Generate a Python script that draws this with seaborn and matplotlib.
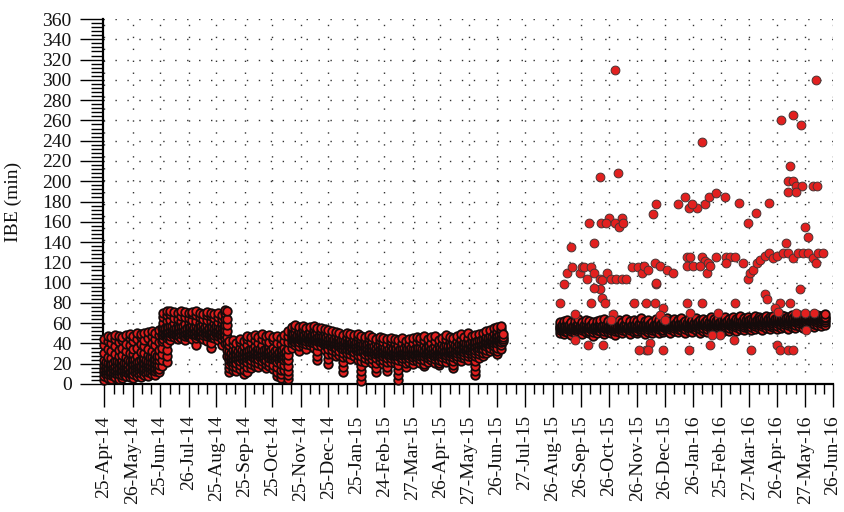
import matplotlib
matplotlib.use("Agg")
import matplotlib.pyplot as plt
import matplotlib.dates as mdates
from matplotlib.ticker import MultipleLocator, FixedLocator
import pandas as pd
import seaborn as sns

START = pd.Timestamp("2014-04-25")

# x tick labels and their day offsets from START
tick_labels = ["25-Apr-14", "26-May-14", "25-Jun-14", "26-Jul-14", "25-Aug-14",
               "25-Sep-14", "25-Oct-14", "25-Nov-14", "25-Dec-14", "25-Jan-15",
               "24-Feb-15", "27-Mar-15", "26-Apr-15", "27-May-15", "26-Jun-15",
               "27-Jul-15", "26-Aug-15", "26-Sep-15", "26-Oct-15", "26-Nov-15",
               "26-Dec-15", "26-Jan-16", "25-Feb-16", "27-Mar-16", "26-Apr-16",
               "27-May-16", "26-Jun-16"]
tick_days = [0, 31, 61, 92, 122, 153, 183, 214, 244, 275, 305, 336, 366, 397,
             427, 458, 488, 519, 549, 580, 610, 641, 671, 702, 732, 763, 793]

# IBE readings (min), one line per day offset: "day: values"
spring_2014 = """
0: 4 8 12 15 19 24 31 38 44
2: 10 13 16 19 22
4: 6 10 13 16 21 27 35 42 47
6: 11 14 17 20
8: 5 9 12 17 20 26 33 40 46
10: 9 12 15 18 21
12: 7 11 14 18 23 30 37 44 48
14: 10 13 16 20 23
16: 5 10 13 16 22 28 34 41 47
18: 12 14 17 19 22
20: 6 9 14 19 24 29 36 43 46
22: 10 13 15 18 21
24: 8 12 15 18 21 27 33 39 48
26: 11 14 16 20 24
28: 7 11 13 17 23 31 38 45 49
30: 9 12 15 19 22
32: 6 10 14 20 25 30 35 42 47
34: 12 15 18 21 25
36: 8 12 16 19 22 28 36 44 50
38: 10 14 17 20 23
40: 7 11 15 18 24 32 39 46 49
42: 13 16 19 22 26
44: 9 13 16 21 26 31 37 43 50
46: 11 15 18 21 24
48: 8 12 17 20 23 29 35 45 51
50: 12 16 19 23 27
52: 10 14 18 22 27 33 40 47 52
54: 13 15 18 22 25
56: 9 13 16 21 25 30 38 44 50
58: 14 17 20 24 28
60: 12 15 19 24 28 34 41 48 53
63: 18 24 30 36 42 48 55
"""

summer_2014 = """
64: 44 48 51 55 60 66 70
66: 48 50 53 55
68: 22 28 34 40 45 49 52 56 62 68 72
70: 47 50 52 56
72: 43 47 50 53 57 63 69 72
74: 49 51 54 57
76: 46 49 52 55 60 65 71
78: 48 50 53 55
80: 44 48 51 54 58 64 70
82: 47 51 53 56
84: 45 49 53 57 62 67 72
86: 49 52 54 57
88: 43 47 50 54 59 66 71
90: 48 50 52 55
92: 46 48 52 56 61 65 70
94: 47 50 53 56
96: 44 49 51 55 58 63 69 71
98: 49 51 54 56
100: 38 45 48 52 57 62 68 72
102: 48 50 52 55
104: 46 50 53 56 60 66 70
106: 47 51 53 57
108: 44 48 51 55 59 64 69
110: 49 52 54 56
112: 42 47 50 54 58 63 68 71
114: 48 50 53 55
116: 36 40 46 49 53 57 62 67 70
118: 47 50 52 56
120: 45 48 52 55 60 65 69
122: 49 51 54 57
124: 43 47 50 53 57 61 66 70
126: 48 50 53 55
128: 38 44 48 52 56 60 64 68
130: 47 51 53 56
132: 40 45 49 53 58 64 70 73
134: 28 34 40 46 52 58 64 72
"""

autumn_2014 = """
136: 12 16 20 24 28 33 38 42
138: 22 25 28 31
140: 14 18 22 25 29 34 39 43
142: 23 26 29 32
144: 13 17 21 26 30 35 40
146: 24 27 30 33
148: 15 19 23 27 31 36 41 44
150: 25 28 31 34
152: 10 14 20 24 28 32 37 42
154: 24 27 30 32
156: 12 17 22 26 29 33 38 44 47
158: 26 29 31 34
160: 16 20 24 28 31 35 41 46
162: 27 30 32 35
164: 18 22 26 30 33 37 43 48
166: 26 29 32 34
168: 17 21 25 29 32 36 40 46
170: 27 30 33 35
172: 19 23 27 30 34 38 44 49
174: 25 28 31 34
176: 16 20 24 29 32 35 42 47
178: 27 30 32 35
180: 18 22 26 30 33 37 41 48
182: 26 29 31 34
184: 15 19 25 28 31 36 43 46
186: 25 28 30 33
188: 8 12 17 22 27 31 35 40 47
190: 24 27 30 32
192: 6 10 14 20 26 30 34 39 45
194: 26 29 31 34
196: 14 19 24 28 32 36 42 48
198: 25 28 31 33
200: 5 9 13 18 24 29 35 41 47 52
"""

winter_2015 = """
204: 36 40 43 45 47 50 53 56
206: 43 45 47 49
208: 38 41 44 46 48 51 55 58
210: 42 44 46 48
212: 33 37 41 44 46 49 52 56
214: 43 45 47 50
216: 37 40 43 45 48 50 54 57
218: 42 44 46 48
220: 35 39 42 45 47 51 55
222: 43 45 47 49
224: 38 41 44 46 49 52 56
226: 41 44 46 48
228: 36 40 43 45 48 50 53 57
230: 42 44 46 49
232: 24 28 33 38 42 45 47 51 55
234: 41 43 45 47
236: 37 41 44 46 48 52 55
238: 40 42 44 47
240: 34 38 42 44 47 50 54
242: 39 41 43 46
244: 20 25 30 35 39 42 45 49 53
246: 38 40 42 45
248: 30 34 37 40 42 45 48 52
250: 37 39 41 44
252: 28 32 36 39 41 44 47 51
254: 37 39 42 44
256: 29 33 37 40 43 46 50
258: 36 38 40 43
260: 12 17 22 27 31 35 38 41 44 48
262: 35 37 40 42
264: 27 31 35 38 40 43 46 50
266: 35 37 39 42
268: 25 30 34 37 40 42 45 49
270: 34 36 39 41
272: 28 32 36 39 41 44 48
274: 34 36 38 41
276: 24 29 33 36 39 42 46 49
278: 33 35 37 40
280: 3 8 13 18 23 28 33 37 40 44 47
282: 32 34 37 39
284: 22 26 30 34 37 40 43 46
286: 32 34 36 39
288: 24 28 32 35 38 41 45 48
290: 31 33 35 38
292: 21 25 29 32 35 38 42 46
294: 30 32 35 37
296: 12 16 21 26 30 33 36 40 44
298: 30 32 34 37
300: 23 27 30 33 36 39 43 46
302: 29 31 34 36
304: 20 24 28 31 34 37 41 45
306: 29 31 33 36
308: 13 17 22 26 30 32 35 39 44
310: 28 30 33 35
312: 22 26 29 32 34 38 42 45
314: 29 31 33 36
316: 21 25 28 31 33 37 40 44
318: 28 30 32 35
320: 4 9 14 19 24 28 31 34 38 43
322: 28 31 33 35
324: 23 26 29 31 33 36 40 45
326: 29 31 33 36
328: 17 21 25 29 31 34 38 42
330: 28 30 32 35
332: 22 26 29 32 35 39 44
334: 29 31 34 36
336: 20 24 27 30 32 35 40 45
338: 28 30 33 35
340: 23 27 30 32 34 37 41 46
342: 29 31 33 36
344: 21 25 28 31 33 36 42 45
346: 28 31 33 35
348: 18 20 24 28 31 34 38 43 47
350: 29 31 34 36
352: 22 26 29 32 35 39 44
354: 30 32 34 37
356: 24 27 30 33 36 40 46
358: 29 31 33 36
360: 21 25 28 31 34 37 42 47
362: 28 30 33 35
364: 19 21 24 28 31 33 38 43
366: 29 32 34 36
368: 23 27 30 33 35 39 45
370: 30 32 34 37
372: 22 26 29 32 34 38 44 48
374: 30 33 35 37
376: 24 28 31 33 36 41 46
378: 31 33 35 38
380: 16 19 23 27 30 32 35 40 45
382: 31 33 36 38
384: 25 28 31 34 37 42 47
386: 32 34 36 39
388: 23 27 30 33 35 39 44 49
390: 32 35 37 39
392: 26 29 32 35 37 41 46
394: 33 35 37 40
396: 24 28 31 34 36 40 45 50
398: 33 36 38 40
400: 27 30 33 36 38 42 47
402: 34 36 38 41
404: 9 13 18 23 28 31 34 37 41 48
406: 35 37 39 42
408: 26 30 33 36 39 43 49
410: 36 38 40 43
412: 28 31 35 38 40 44 50
414: 37 39 41 44
416: 31 34 37 40 42 46 52
418: 38 40 42 45
420: 33 36 39 42 44 47 53
422: 39 41 43 46
424: 34 37 40 43 45 49 55
426: 40 42 44 47
428: 30 33 36 40 43 45 48 52 56
430: 41 43 45 48
432: 35 38 41 44 46 50 54 57
434: 42 44 46 49
"""

band_2015_16 = """
496: 50 53 55 56 58 61
498: 54 56 58
500: 49 52 55 57 59 62
502: 53 55 57
504: 51 54 56 57 60 63
506: 54 56 58
508: 48 52 54 56 58 61
510: 54 55 57
512: 50 53 55 57 59 62
514: 53 56 58
516: 52 54 56 58 60 64
518: 54 56 57
520: 49 53 55 57 58 61
522: 54 55 58
524: 51 54 56 57 59 63
526: 53 56 57
528: 50 52 55 56 58 62
530: 54 56 58
532: 47 51 54 56 59 61
534: 54 55 57
536: 50 53 55 57 58 62
538: 53 56 58
540: 52 55 56 58 60 63
542: 54 56 57
544: 49 52 55 57 59 64
546: 54 55 58
548: 51 54 56 57 58 62
550: 53 56 57
552: 50 53 55 56 59 61
554: 54 56 58
556: 48 52 54 56 58 62
558: 54 55 57
560: 51 54 56 58 60 63
562: 53 56 58
564: 50 53 55 57 59 61
566: 55 56 58
568: 52 55 56 58 60 64
570: 54 56 57
572: 49 53 55 57 59 62
574: 55 57 58
576: 51 54 56 57 60 63
578: 54 56 58
580: 50 52 55 57 58 62
582: 55 57 59
584: 52 54 56 58 60 65
586: 55 56 58
588: 49 53 56 57 59 62
590: 55 57 59
592: 51 54 56 58 60 63
594: 56 57 59
596: 50 53 55 57 59 61
598: 55 57 58
600: 52 55 57 58 60 64
602: 56 58 59
604: 50 54 56 58 61 63
606: 55 57 59
608: 51 53 56 57 59 62
610: 56 58 60
612: 53 55 57 59 61 65
614: 56 57 59
616: 50 54 56 58 60 62
618: 56 58 60
620: 52 55 57 59 61 64
622: 57 58 60
624: 51 54 56 58 60 63
626: 56 58 59
628: 53 56 57 59 61 65
630: 57 59 60
632: 50 54 57 58 60 62
634: 56 58 60
636: 52 55 57 59 61 64
638: 57 59 61
640: 51 55 56 58 60 63
642: 57 58 60
644: 53 56 58 59 62 65
646: 57 59 61
648: 50 54 57 59 61 63
650: 58 59 61
652: 52 55 58 60 62 64
654: 57 59 61
656: 51 54 57 59 60 63
658: 58 60 61
660: 53 56 58 60 62 66
662: 57 59 61
664: 52 55 57 59 61 64
666: 58 60 62
668: 54 56 58 60 62 65
670: 58 59 61
672: 51 55 57 59 61 63
674: 58 60 62
676: 53 56 58 60 62 66
678: 59 60 62
680: 52 55 58 59 61 64
682: 58 60 62
684: 54 57 59 61 63 66
686: 59 61 62
688: 52 56 58 60 62 64
690: 59 61 63
692: 54 57 59 61 63 67
694: 59 60 62
696: 53 56 58 60 62 65
698: 60 61 63
700: 55 57 59 61 63 66
702: 59 61 63
704: 53 56 59 60 62 64
706: 60 62 63
708: 54 57 59 61 63 67
710: 60 61 63
712: 55 58 60 62 64 66
714: 60 62 64
716: 53 57 59 61 63 65
718: 61 62 64
720: 55 58 60 62 64 67
722: 60 62 64
724: 54 57 60 61 63 66
726: 61 63 64
728: 56 58 60 62 64 67
730: 61 62 64
732: 54 57 60 62 63 65
734: 61 63 65
736: 55 58 61 62 64 68
738: 62 63 65
740: 56 59 61 63 64 67
742: 61 63 65
744: 54 58 60 62 64 66
746: 62 64 65
748: 56 59 61 63 65 68
750: 62 63 65
752: 55 58 61 62 64 67
754: 62 64 66
756: 57 60 62 63 65 68
758: 63 64 66
760: 55 59 61 63 64 66
762: 62 64 66
764: 56 60 62 64 65 68
766: 63 65 66
768: 57 60 62 63 65 67
770: 63 64 66
772: 56 59 62 64 66 69
774: 63 65 67
776: 58 61 63 64 66 68
778: 64 65 67
780: 57 60 62 64 65 67
782: 63 65 67
784: 58 61 63 65 66 69
"""

# Second band, roughly 100-130 min
upper_days = [500, 504, 509, 518, 520, 522, 525, 530, 533, 540, 542, 547, 552, 557,
              563, 568, 574, 581, 585, 587, 592, 599, 605, 612, 619, 634, 637, 650,
              654, 657, 666, 677, 681, 686, 634, 641, 648, 656, 659, 677, 695, 701,
              703, 706, 710, 714, 719, 723, 728, 732, 739, 744, 750, 755, 760, 766,
              771, 775, 777, 782]
upper_ibe = [99, 109, 115, 109, 115, 115, 104, 115, 109, 104, 103, 109, 104, 104,
             104, 104, 115, 115, 109, 116, 112, 119, 116, 112, 109, 125, 125, 125,
             121, 119, 125, 125, 125, 125, 116, 116, 116, 109, 116, 119, 119, 104,
             109, 112, 119, 122, 126, 129, 124, 126, 129, 129, 124, 129, 129, 129,
             124, 119, 129, 129]

# Isolated high readings
high_days = [556, 774, 736, 750, 758, 650, 746, 539, 559, 744, 749, 753, 759, 771,
             776, 744, 753, 601, 624, 632, 636, 645, 640, 654, 658, 666, 676, 691,
             723, 709, 597, 549, 564, 528, 541, 546, 556, 560, 565, 701, 762, 766,
             533, 508, 742]
high_ibe = [310, 300, 260, 265, 255, 239, 215, 204, 208, 200, 200, 195, 195, 195,
            195, 189, 189, 178, 178, 184, 174, 174, 178, 178, 184, 188, 184, 179,
            179, 169, 168, 164, 164, 159, 159, 159, 159, 155, 159, 159, 155, 145,
            139, 135, 139]

# Scattered readings between and below the bands
mid_days = [601, 757, 719, 721, 590, 599, 634, 650, 686, 608, 735, 746, 730, 733,
            753, 762, 772, 605, 610, 637, 668, 540, 542, 545, 496, 530, 512, 554,
            552, 576, 533, 601,
            670, 685, 659, 636, 590, 594, 608, 704, 732, 735, 744, 749, 764, 661,
            512, 526, 543, 582, 592]
mid_ibe = [99, 94, 89, 84, 80, 80, 80, 80, 80, 75, 80, 80, 75, 71,
           70, 70, 70, 68, 63, 70, 70, 94, 85, 80, 80, 80, 69, 69,
           63, 80, 95, 100,
           48, 43, 38, 34, 34, 40, 34, 34, 38, 34, 34, 34, 53, 48,
           43, 38, 38, 34, 34]


def expand(block):
    days, values = [], []
    for line in block.strip().splitlines():
        d, vals = line.split(":")
        for v in vals.split():
            days.append(int(d))
            values.append(float(v))
    return days, values


def to_frame(days, values):
    f = pd.DataFrame({"day": days, "ibe": values})
    f["date"] = START + pd.to_timedelta(f["day"], unit="D")
    return f


dense = pd.concat([to_frame(*expand(b)) for b in
                   (spring_2014, summer_2014, autumn_2014, winter_2015,
                    band_2015_16)], ignore_index=True)
sparse = pd.concat([to_frame(upper_days, upper_ibe),
                    to_frame(mid_days, mid_ibe),
                    to_frame(high_days, high_ibe)], ignore_index=True)

sns.set_style("white")
plt.rcParams["font.family"] = ["Liberation Serif", "DejaVu Serif"]

W, H = 845, 512
fig = plt.figure(figsize=(W / 100, H / 100), dpi=100)
ax = fig.add_axes([103 / W, 1 - 384 / H, (833 - 103) / W, (384 - 19) / H])

RED = "#e2201f"
# Continuous runs of readings: heavily overlapping markers
sns.scatterplot(data=dense, x="date", y="ibe", ax=ax, color=RED,
                edgecolor="#140b0b", linewidth=1.3, s=38, legend=False,
                zorder=3, clip_on=False)
# Scattered readings
sns.scatterplot(data=sparse, x="date", y="ibe", ax=ax, color=RED,
                edgecolor="#4a3333", linewidth=0.7, s=40, legend=False,
                zorder=4, clip_on=False)

to_num = lambda d: mdates.date2num(START + pd.Timedelta(days=d))
major = [to_num(d) for d in tick_days]
minor = []
for a, b in zip(major[:-1], major[1:]):
    minor += [a + (b - a) / 3, a + 2 * (b - a) / 3]

ax.set_xlim(to_num(-1.1), to_num(793))
ax.set_ylim(0, 360)
ax.xaxis.set_major_locator(FixedLocator(major))
ax.xaxis.set_minor_locator(FixedLocator(minor))
ax.set_xticklabels(tick_labels, rotation=90)
ax.yaxis.set_major_locator(MultipleLocator(20))
ax.yaxis.set_minor_locator(MultipleLocator(4))

ax.tick_params(axis="both", which="both", bottom=True, left=True,
               top=False, right=False)
ax.tick_params(axis="both", which="major", direction="out", length=16.5,
               width=1.0, color="black", labelsize=14, pad=6,
               labelcolor="#111111")
ax.tick_params(axis="x", which="minor", direction="out", length=7.5,
               width=1.0, color="black")
ax.tick_params(axis="y", which="minor", direction="out", length=8.5,
               width=1.0, color="black")

for s in ("top", "right"):
    ax.spines[s].set_visible(False)
for s in ("left", "bottom"):
    ax.spines[s].set_linewidth(1.6)
    ax.spines[s].set_color("black")

ax.grid(True, which="major", color="#333333", linestyle=(0, (1, 7.6)),
        linewidth=1.0)
ax.set_axisbelow(True)

ax.set_xlabel("")
ax.set_ylabel("IBE (min)", fontsize=14, color="#111111")
ax.yaxis.set_label_coords((22 - 103) / 730, 0.5)

fig.savefig("out.png", dpi=100)
